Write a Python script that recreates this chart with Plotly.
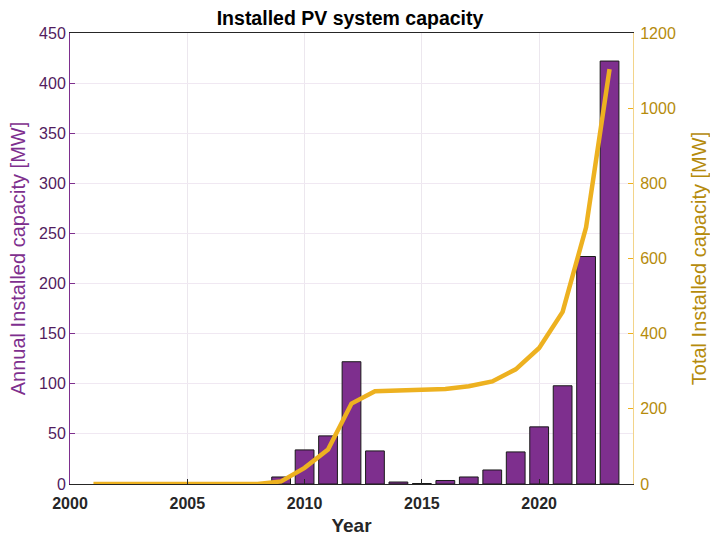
import plotly.graph_objects as go

years = list(range(2001, 2024))
annual_mw = [0, 0, 0, 0, 0, 0, 0, 0, 7, 34, 48, 122, 33, 2, 0.5, 3.5, 7, 14, 32, 57, 98, 227, 422]
total_mw = [0, 0, 0, 0, 0, 0, 0, 0, 7, 43, 92, 214, 247, 249, 250, 253, 260, 273, 305, 362, 458, 683, 1104]

purple = "#7E2F8E"
yellow = "#EDB120"
font_family = "Liberation Sans, Arial, sans-serif"

edge_widths = [1 if v > 0 else 0 for v in annual_mw]

fig = go.Figure()
fig.add_trace(go.Bar(
    x=years, y=annual_mw, width=0.8,
    marker=dict(color=purple, line=dict(color="#1a1a1a", width=edge_widths)),
    yaxis="y", showlegend=False,
))
fig.add_trace(go.Scatter(
    x=years, y=total_mw, mode="lines",
    line=dict(color=yellow, width=4.5),
    yaxis="y2", showlegend=False,
))

fig.update_layout(
    width=710, height=536,
    margin=dict(l=70, r=77, t=33, b=52, autoexpand=False),
    paper_bgcolor="white", plot_bgcolor="white",
    font=dict(family=font_family, size=16, color="#262626"),
    title=dict(text="<b>Installed PV system capacity</b>", x=0.493, xanchor="center",
               y=1 - 18 / 536, yanchor="middle", font=dict(size=19.5, color="#000000")),
    xaxis=dict(
        range=[2000, 2024], tickvals=[2000, 2005, 2010, 2015, 2020],
        ticktext=["<b>2000</b>", "<b>2005</b>", "<b>2010</b>", "<b>2015</b>", "<b>2020</b>"],
        showgrid=True, gridcolor="#ECE7EE", gridwidth=1,
        showline=True, linecolor="#262626", linewidth=1, mirror=True,
        ticks="inside", ticklen=5, tickcolor="#262626", ticklabelstandoff=5,
        tickfont=dict(size=16, color="#262626"),
        title=dict(text="<b>Year</b>", font=dict(size=19, color="#262626"), standoff=11),
        zeroline=False, automargin=False,
    ),
    yaxis=dict(
        range=[0, 450], tickvals=list(range(0, 451, 50)),
        showgrid=True, gridcolor="#F0E8F2", gridwidth=1,
        showline=True, linecolor=purple, linewidth=1,
        ticks="inside", ticklen=5, tickcolor=purple,
        tickfont=dict(size=16, color="#521C5E"),
        title=dict(text="Annual Installed capacity [MW]", font=dict(size=20, color=purple), standoff=8),
        zeroline=False, automargin=False,
    ),
    yaxis2=dict(
        range=[0, 1200], tickvals=list(range(0, 1201, 200)),
        overlaying="y", side="right",
        showgrid=False,
        showline=True, linecolor="#F3D48A", linewidth=1,
        ticks="inside", ticklen=5, tickcolor=yellow, ticklabelstandoff=3,
        tickfont=dict(size=16, color="#B58B0C"),
        title=dict(text="Total Installed capacity [MW]", font=dict(size=20, color="#B58B0C"), standoff=18),
        zeroline=False, automargin=False,
    ),
)

fig.write_html("out.html", config={"displayModeBar": False},
               post_script="document.body.style.margin='0px';")
